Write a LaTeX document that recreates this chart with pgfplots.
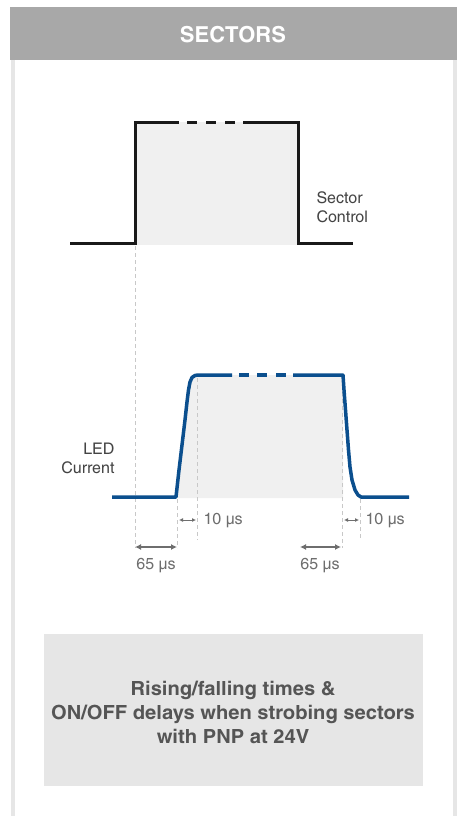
\documentclass[border=0pt]{standalone}
\usepackage{fontspec}
\setmainfont{TeX Gyre Heros Cn}
\newfontfamily\lbl[FakeStretch=1.22]{TeX Gyre Heros Cn}
\newfontfamily\boxf[FakeStretch=1.26]{TeX Gyre Heros Cn}
\usepackage{pgfplots}
\pgfplotsset{compat=1.18}
\usetikzlibrary{arrows.meta}
\definecolor{hdr}{HTML}{A8A8A8}
\definecolor{bord}{HTML}{E6E6E6}
\definecolor{fillg}{HTML}{F0F0F0}
\definecolor{boxg}{HTML}{E6E6E6}
\definecolor{ledblue}{HTML}{0B4F8E}
\definecolor{dashg}{HTML}{C8C8C8}
\definecolor{arrg}{HTML}{6E6E6E}
\definecolor{txt}{HTML}{444444}
\definecolor{boxtxt}{HTML}{555555}
\begin{document}
\begin{tikzpicture}
\begin{axis}[width=457pt,height=816pt,scale only axis,
  xmin=0,xmax=457,ymin=0,ymax=816,y dir=reverse,hide axis,clip=false]
% background and frame
\fill[white] (0,0) rectangle (457,816);
\fill[hdr] (10,7) rectangle (457,60);
\fill[bord] (11,60) rectangle (15,816);
\fill[bord] (453,60) rectangle (457,816);
\node[white,font=\lbl\fontsize{22}{26}\selectfont\bfseries] at (233,35) {SECTORS};
% top pulse fill
\addplot[draw=none,fill=fillg] coordinates {(135,122) (298,122) (298,245) (135,245)} -- cycle;
% bottom pulse fill
\addplot[draw=none,fill=fillg] coordinates {(176,498) (179,470) (182,445) (185,420) (187,402) (188.5,390) (190,382) (192,377.5) (195,375.5) (198,375) (343,375) (343,498)} -- cycle;
% dashed guide lines
\addplot[dashg,line width=1pt,dash pattern=on 4pt off 3pt] coordinates {(135,246) (135,548)};
\addplot[dashg,line width=1pt,dash pattern=on 4pt off 3pt] coordinates {(177,499) (177,548)};
\addplot[dashg,line width=1pt,dash pattern=on 4pt off 3pt] coordinates {(197,378) (197,540)};
\addplot[dashg,line width=1pt,dash pattern=on 4pt off 3pt] coordinates {(342,378) (342,548)};
\addplot[dashg,line width=1pt,dash pattern=on 4pt off 3pt] coordinates {(360,499) (360,540)};
% sector control signal
\addplot[black!90,line width=3pt,line join=miter] coordinates {(70,243) (135,243) (135,122) (179,122)};
\addplot[black!90,line width=3pt] coordinates {(187,122) (197,122)};
\addplot[black!90,line width=3pt] coordinates {(206,122) (216,122)};
\addplot[black!90,line width=3pt] coordinates {(225,122) (235,122)};
\addplot[black!90,line width=3pt,line join=miter] coordinates {(243,122) (298,122) (298,243) (353,243)};
% LED current
\addplot[ledblue,line width=3.5pt,line join=round] coordinates {(112,497) (176,497) (179,470) (182,445) (185,420) (187,402) (188.5,390) (190,382) (192,377.5) (195,375.5) (198,375) (232,375)};
\addplot[ledblue,line width=3.5pt] coordinates {(239,375) (249,375)};
\addplot[ledblue,line width=3.5pt] coordinates {(257,375) (267,375)};
\addplot[ledblue,line width=3.5pt] coordinates {(276,375) (286,375)};
\addplot[ledblue,line width=3.5pt,line join=round] coordinates {(293,375) (343,375) (344,390) (345.5,410) (347,430) (348.5,450) (350,467) (352,480) (355,490) (358,495) (361,497) (409,497)};
% arrows
\draw[arrg,line width=2pt,{Latex[length=6pt,width=6pt]}-{Latex[length=6pt,width=6pt]}] (135,547) -- (177,547);
\draw[arrg,line width=2pt,{Latex[length=6pt,width=6pt]}-{Latex[length=6pt,width=6pt]}] (300,547) -- (341,547);
\draw[arrg,line width=1pt,{Latex[length=4pt,width=4pt]}-{Latex[length=4pt,width=4pt]}] (179,520) -- (196,520);
\draw[arrg,line width=1pt,{Latex[length=4pt,width=4pt]}-{Latex[length=4pt,width=4pt]}] (344,520) -- (359,520);
% labels
\node[arrg,anchor=west,font=\lbl\fontsize{16}{19}\selectfont] at (200,521) {10 µs};
\node[arrg,anchor=west,font=\lbl\fontsize{16}{19}\selectfont] at (362,521) {10 µs};
\node[arrg,font=\lbl\fontsize{16}{19}\selectfont] at (156,566) {65 µs};
\node[arrg,font=\lbl\fontsize{16}{19}\selectfont] at (320,566) {65 µs};
\node[txt,anchor=west,align=left,font=\lbl\fontsize{16}{19}\selectfont] at (313,207) {Sector\\Control};
\node[txt,anchor=east,align=right,font=\lbl\fontsize{16}{19}\selectfont] at (118,458) {LED\\Current};
% caption box
\fill[boxg] (44,634) rectangle (423,786);
\node[boxtxt,align=center,font=\boxf\fontsize{19.5}{24}\selectfont\bfseries] at (233,712) {Rising/falling times \&\\ON/OFF delays when strobing sectors\\with PNP at 24V};
\end{axis}
\end{tikzpicture}
\end{document}
